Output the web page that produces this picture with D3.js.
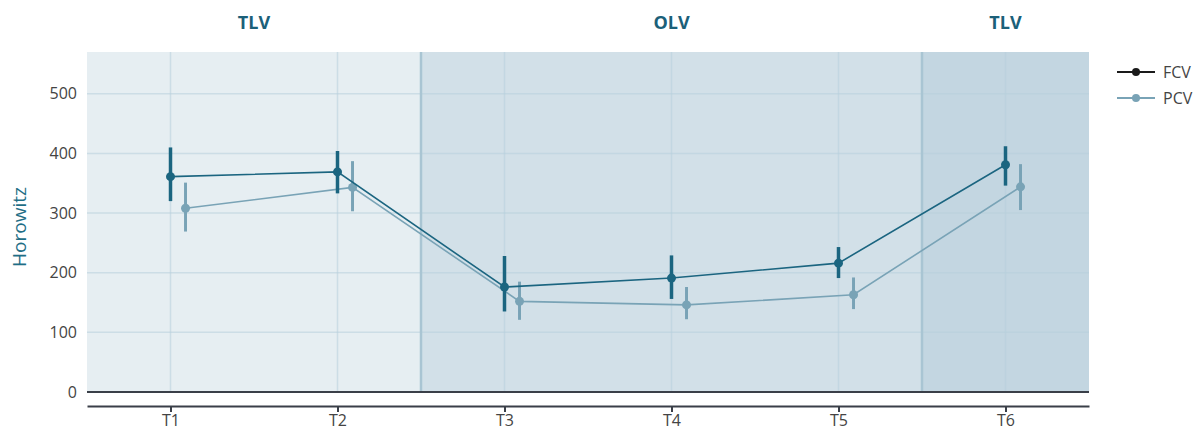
<!DOCTYPE html>
<html>
<head>
<meta charset="utf-8">
<script src="https://cdn.jsdelivr.net/npm/d3@7"></script>
<style>
  body { margin: 0; background: #fff; }
  svg { display: block; font-family: "Open Sans", "Noto Sans", sans-serif; }
</style>
</head>
<body>
<div id="chart"></div>
<script>
const W = 1199, H = 432;
const categories = ["T1", "T2", "T3", "T4", "T5", "T6"];
const yTicks = [0, 100, 200, 300, 400, 500];

// FCV series
const fcvMean = [361, 369, 176, 191, 216, 381];
const fcvLow  = [320, 333, 135, 156, 191, 346];
const fcvHigh = [410, 404, 228, 229, 243, 412];
// PCV series
const pcvMean = [308, 343, 152, 146, 163, 344];
const pcvLow  = [269, 303, 121, 122, 139, 305];
const pcvHigh = [351, 387, 185, 176, 192, 382];

// phase bands: [label, start index - 0.5, end index + 0.5]
const phaseLabels = ["TLV", "OLV", "TLV"];
const phaseStart  = [-0.5, 1.5, 4.5];
const phaseEnd    = [1.5, 4.5, 5.5];
const phaseFill   = ["#e6eef2", "#d2e0e8", "#c3d6e1"];

const margin = {top: 52, right: 110, bottom: 40, left: 87};
const plotW = W - margin.left - margin.right; // 1002
const plotH = 392 - margin.top;

const x = d3.scaleLinear().domain([-0.5, 5.5]).range([0, plotW]);
const y = d3.scaleLinear().domain([0, 570]).range([plotH, 0]);

const svg = d3.select("#chart").append("svg").attr("width", W).attr("height", H);
const g = svg.append("g").attr("transform", "translate(" + margin.left + "," + margin.top + ")");

// bands
g.selectAll("rect.band")
  .data(phaseLabels)
  .enter().append("rect")
    .attr("class", "band")
    .attr("x", (d, i) => x(phaseStart[i]))
    .attr("width", (d, i) => x(phaseEnd[i]) - x(phaseStart[i]))
    .attr("y", 0)
    .attr("height", plotH)
    .attr("fill", (d, i) => phaseFill[i]);

// grid
g.selectAll("line.hgrid")
  .data(yTicks.slice(1))
  .enter().append("line")
    .attr("x1", 0).attr("x2", plotW)
    .attr("y1", d => y(d)).attr("y2", d => y(d))
    .attr("stroke", "#b7cfdc").attr("stroke-opacity", 0.55).attr("stroke-width", 1.5);
g.selectAll("line.vgrid")
  .data(categories)
  .enter().append("line")
    .attr("x1", (d, i) => x(i)).attr("x2", (d, i) => x(i))
    .attr("y1", 0).attr("y2", plotH)
    .attr("stroke", "#b7cfdc").attr("stroke-opacity", 0.55).attr("stroke-width", 1.5);

// band borders
g.selectAll("line.border")
  .data([1.5, 4.5])
  .enter().append("line")
    .attr("x1", d => x(d)).attr("x2", d => x(d))
    .attr("y1", 0).attr("y2", plotH)
    .attr("stroke", "#a9c5d3").attr("stroke-width", 2.5);

// phase labels
svg.selectAll("text.phase")
  .data(phaseLabels)
  .enter().append("text")
    .attr("x", (d, i) => margin.left + (x(phaseStart[i]) + x(phaseEnd[i])) / 2)
    .attr("y", 29)
    .attr("text-anchor", "middle")
    .attr("font-size", 18)
    .attr("font-weight", "bold")
    .attr("fill", "#1b6079")
    .text(d => d);

// y axis labels
g.selectAll("text.ytick")
  .data(yTicks)
  .enter().append("text")
    .attr("x", -10)
    .attr("y", d => y(d))
    .attr("dy", "0.35em")
    .attr("text-anchor", "end")
    .attr("font-size", 16)
    .attr("fill", "#444")
    .text(d => d);

svg.append("text")
  .attr("transform", "translate(26," + (margin.top + plotH / 2 + 5) + ") rotate(-90)")
  .attr("text-anchor", "middle")
  .attr("font-size", 19)
  .attr("fill", "#1f6e86")
  .text("Horowitz");

// zero line
g.append("line")
  .attr("x1", 0).attr("x2", plotW)
  .attr("y1", y(0)).attr("y2", y(0))
  .attr("stroke", "#3a3f48").attr("stroke-width", 2);

// x axis
const xAxis = d3.axisBottom(x).tickValues(d3.range(categories.length))
  .tickFormat(i => categories[i]).tickSize(6).tickPadding(2).tickSizeOuter(0);
const xg = g.append("g")
  .attr("transform", "translate(0," + (plotH + 14) + ")")
  .call(xAxis);
xg.select(".domain").attr("stroke", "#3a3f48").attr("stroke-width", 2);
xg.selectAll(".tick line").attr("stroke", "#3a3f48").attr("stroke-width", 2);
xg.selectAll(".tick text").attr("font-size", 16).attr("fill", "#444")
  .attr("font-family", "Open Sans, sans-serif").attr("dy", "0.72em");

// series
const series = [
  {name: "FCV", mean: fcvMean, low: fcvLow, high: fcvHigh, color: "#1b6580", legend: "#1a1a1a", offset: 0, errW: 3.5},
  {name: "PCV", mean: pcvMean, low: pcvLow, high: pcvHigh, color: "#79a3b6", legend: "#79a3b6", offset: 0.09, errW: 3}
];

const line = d3.line().x(d => x(d[0])).y(d => y(d[1]));

// draw PCV first so FCV is on top
series.slice().reverse().forEach(s => {
  const sg = g.append("g").attr("class", s.name);
  const pts = s.mean.map((v, i) => [i + s.offset, v]);
  sg.selectAll("line.err")
    .data(s.mean)
    .enter().append("line")
      .attr("x1", (d, i) => x(i + s.offset)).attr("x2", (d, i) => x(i + s.offset))
      .attr("y1", (d, i) => y(s.low[i])).attr("y2", (d, i) => y(s.high[i]))
      .attr("stroke", s.color).attr("stroke-width", s.errW);
  sg.append("path")
    .attr("d", line(pts))
    .attr("fill", "none")
    .attr("stroke", s.color)
    .attr("stroke-width", 1.6);
  sg.selectAll("circle")
    .data(pts)
    .enter().append("circle")
      .attr("cx", d => x(d[0])).attr("cy", d => y(d[1]))
      .attr("r", 4.5)
      .attr("fill", s.color);
});

// legend
const lg = svg.append("g").attr("transform", "translate(1117,72)");
series.forEach((s, i) => {
  const row = lg.append("g").attr("transform", "translate(0," + (i * 26) + ")");
  row.append("line").attr("x1", 0).attr("x2", 38).attr("y1", 0).attr("y2", 0)
    .attr("stroke", s.legend).attr("stroke-width", 2);
  row.append("circle").attr("cx", 19).attr("cy", 0).attr("r", 4).attr("fill", s.legend);
  row.append("text").attr("x", 46).attr("y", 0).attr("dy", "0.35em")
    .attr("font-size", 16).attr("fill", "#444").text(s.name);
});
</script>
</body>
</html>
